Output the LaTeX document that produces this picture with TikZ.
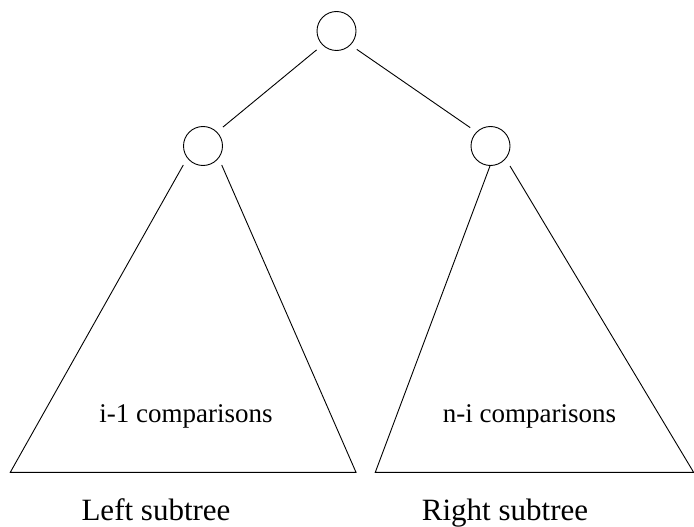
\documentclass[tikz,border=0pt]{standalone}
\usepackage{fontspec}
\setmainfont{Liberation Serif}
\begin{document}
\begin{tikzpicture}[x=1pt,y=-1pt,
  treenode/.style={circle,draw,line width=0.9pt,minimum size=39pt,inner sep=0pt},
  edge/.style={line width=0.9pt,shorten >=7.5pt,shorten <=7.5pt},
  tri/.style={line width=0.9pt,line join=miter},
  midlabel/.style={anchor=base,inner sep=0pt,font=\fontsize{27}{30}\selectfont},
  sublabel/.style={anchor=base,inner sep=0pt,font=\fontsize{31}{34}\selectfont}]
\useasboundingbox (0,0) rectangle (694,527);
\node[treenode] (top) at (336.5,31) {};
\node[treenode] (L) at (203,146) {};
\node[treenode] (R) at (490.5,146) {};
\draw[edge] (top.-135) -- (L.45);
\draw[edge] (top.-45) -- (R.135);
% left subtree
\coordinate (la) at (183.3,165);
\coordinate (lb) at (221.7,165);
\coordinate (lbl) at (10.3,472.3);
\coordinate (lbr) at (356,472.3);
\draw[tri] (la) -- (lbl) -- (lbr) -- (lb);
% right subtree
\coordinate (ra) at (490,166);
\coordinate (rb) at (510,166);
\coordinate (rbl) at (375.3,472.3);
\coordinate (rbr) at (693.6,472.3);
\draw[tri] (ra) -- (rbl) -- (rbr) -- (rb);
\node[midlabel] (lc) at (186,422) {i-1 comparisons};
\node[midlabel] (rc) at (529.5,422) {n-i comparisons};
\node[sublabel] (ls) at (156,520.7) {Left subtree};
\node[sublabel] (rs) at (505,520.7) {Right subtree};
\end{tikzpicture}
\end{document}
